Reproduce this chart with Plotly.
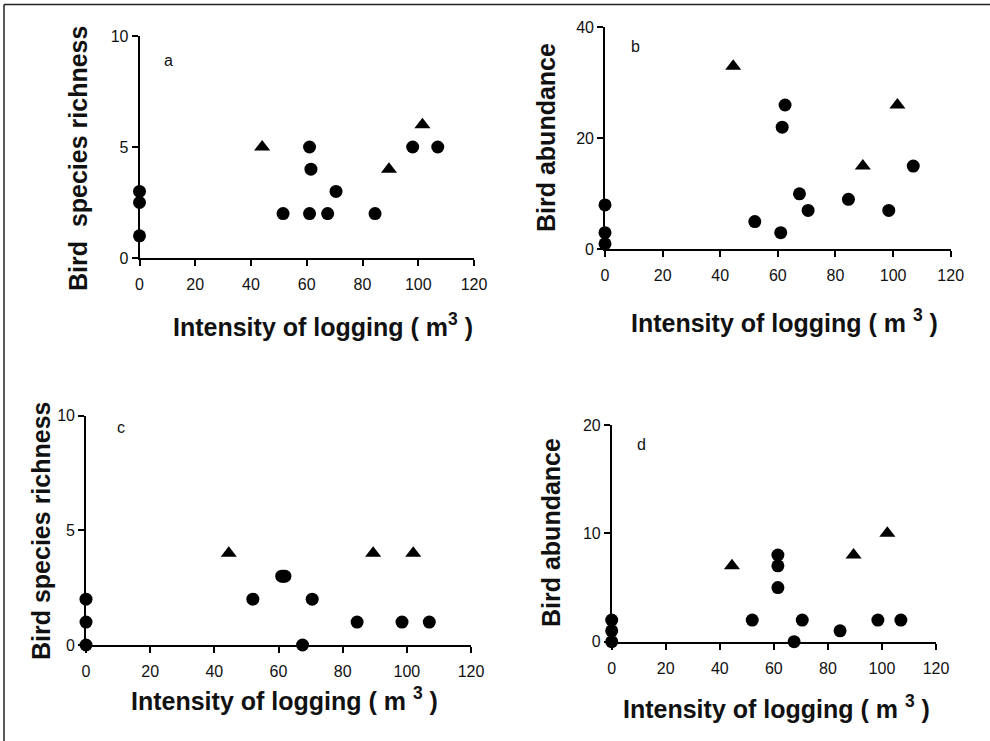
import plotly.graph_objects as go

W, H = 990, 741

# ---------------- data ----------------
x_ticks = [0, 20, 40, 60, 80, 100, 120]

a_circ_x = [0, 0, 0, 51.5, 61, 61.5, 61, 67.5, 70.5, 84.5, 98, 107]
a_circ_y = [3, 2.5, 1, 2, 5, 4, 2, 2, 3, 2, 5, 5]
a_tri_x = [44, 89.5, 101.5]
a_tri_y = [5, 4, 6]

b_circ_x = [0, 0, 0, 52, 61.5, 62.5, 61, 67.5, 70.5, 84.5, 98.5, 107]
b_circ_y = [8, 3, 1, 5, 22, 26, 3, 10, 7, 9, 7, 15]
b_tri_x = [44.5, 89.5, 101.5]
b_tri_y = [33, 15, 26]

c_circ_x = [0, 0, 0, 52, 61, 62, 61.5, 67.5, 70.5, 84.5, 98.5, 107]
c_circ_y = [2, 1, 0, 2, 3, 3, 3, 0, 2, 1, 1, 1]
c_tri_x = [44.5, 89.5, 102]
c_tri_y = [4, 4, 4]

d_circ_x = [0, 0, 0, 52, 61.5, 61.5, 61.5, 67.5, 70.5, 84.5, 98.5, 107]
d_circ_y = [2, 1, 0, 2, 8, 7, 5, 0, 2, 1, 2, 2]
d_tri_x = [44.5, 89.5, 102]
d_tri_y = [7, 8, 10]

y_titles = ["Bird\u00a0 species richness", "Bird abundance",
            "Bird species richness", "Bird abundance"]
x_titles = ["Intensity of logging ( m<sup>3</sup> )",
            "Intensity of logging ( m <sup>3</sup> )",
            "Intensity of logging ( m <sup>3</sup> )",
            "Intensity of logging ( m <sup>3</sup> )"]
panel_letters = ["a", "b", "c", "d"]
y_ranges = [[0, 10], [0, 40], [0, 10], [0, 20]]
y_dticks = [5, 20, 5, 10]

# ---------------- layout geometry (pixels) ----------------
# (x at 0, x at 120, y at ymin, y at ymax)
boxes = [
    (139.5, 474.0, 258.0, 36.0),
    (605.0, 950.7, 249.3, 27.3),
    (86.0, 471.0, 645.0, 415.7),
    (611.7, 936.0, 641.7, 425.0),
]
xtitle_pos = [(322.5, 325), (784, 321.5), (284, 699), (776, 707)]
ytitle_pos = [(78, 159), (546, 138), (41, 531), (551, 533)]
letter_pos = [(168.5, 60.5), (635, 46), (120.5, 427), (641.7, 444.4)]

def px(x):
    return x / W

def py(y):
    return 1 - y / H

fig = go.Figure()

data = [
    (a_circ_x, a_circ_y, a_tri_x, a_tri_y),
    (b_circ_x, b_circ_y, b_tri_x, b_tri_y),
    (c_circ_x, c_circ_y, c_tri_x, c_tri_y),
    (d_circ_x, d_circ_y, d_tri_x, d_tri_y),
]

tick_font = dict(family="Liberation Sans, Arial, sans-serif", size=16, color="#111111")
title_font = dict(family="Liberation Sans, Arial, sans-serif", size=25, color="#111111")

layout_axes = {}
annotations = []
for i, (cx, cy, tx, ty) in enumerate(data):
    n = "" if i == 0 else str(i + 1)
    xa, ya = "x" + n, "y" + n
    fig.add_trace(go.Scatter(x=cx, y=cy, mode="markers", xaxis=xa, yaxis=ya,
                             marker=dict(symbol="circle", size=13, color="#000000"),
                             cliponaxis=False, showlegend=False))
    fig.add_trace(go.Scatter(x=tx, y=ty, mode="markers", xaxis=xa, yaxis=ya,
                             marker=dict(symbol="triangle-up", size=14, color="#000000"),
                             cliponaxis=False, showlegend=False))
    x0, x1, y0, y1 = boxes[i]
    common = dict(showline=True, linecolor="#000000", linewidth=1.6,
                  ticks="outside", ticklen=6, tickwidth=1.5, tickcolor="#000000",
                  showgrid=False, zeroline=False, tickfont=tick_font, automargin=False)
    layout_axes["xaxis" + n] = dict(domain=[px(x0), px(x1)], range=[0, 120],
                                    tickvals=x_ticks, anchor=ya, ticklabelstandoff=5,
                                    **common)
    layout_axes["yaxis" + n] = dict(domain=[py(y0), py(y1)], range=y_ranges[i],
                                    dtick=y_dticks[i], anchor=xa, **common)
    annotations.append(dict(text="<b>" + x_titles[i] + "</b>", x=px(xtitle_pos[i][0]),
                            y=py(xtitle_pos[i][1]), xref="paper", yref="paper",
                            xanchor="center", yanchor="middle", showarrow=False,
                            font=title_font))
    annotations.append(dict(text="<b>" + y_titles[i] + "</b>", x=px(ytitle_pos[i][0]),
                            y=py(ytitle_pos[i][1]), xref="paper", yref="paper",
                            xanchor="center", yanchor="middle", showarrow=False,
                            textangle=-90, font=title_font))
    annotations.append(dict(text=panel_letters[i], x=px(letter_pos[i][0]),
                            y=py(letter_pos[i][1]), xref="paper", yref="paper",
                            xanchor="center", yanchor="middle", showarrow=False,
                            font=tick_font))

# thin frame lines of the scanned figure (left and top edges)
shapes = [
    dict(type="line", xref="paper", yref="paper", x0=px(4), x1=px(4), y0=py(4.5), y1=py(741),
         line=dict(color="#222222", width=1.5)),
    dict(type="line", xref="paper", yref="paper", x0=px(4), x1=px(990), y0=py(4.5), y1=py(4.5),
         line=dict(color="#222222", width=1.5)),
]

fig.update_layout(width=W, height=H, autosize=False,
                  margin=dict(l=0, r=0, t=0, b=0, pad=0, autoexpand=False),
                  paper_bgcolor="#ffffff", plot_bgcolor="#ffffff",
                  annotations=annotations, shapes=shapes, **layout_axes)

fig.write_html("out.html")
